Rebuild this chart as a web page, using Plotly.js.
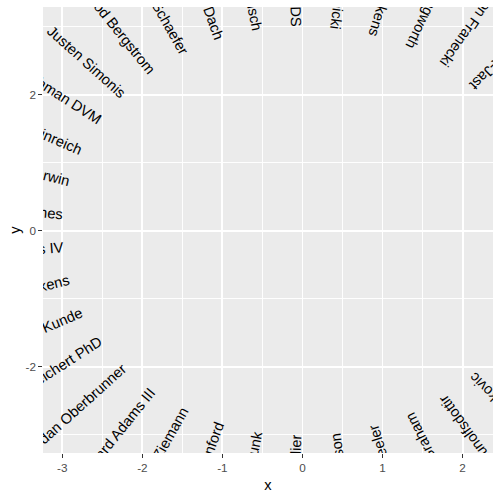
<!DOCTYPE html>
<html>
<head>
<meta charset="utf-8">
<script src="https://cdn.plot.ly/plotly-3.0.1.min.js"></script>
<style>
  html, body { margin: 0; padding: 0; background: #ffffff; }
  #chart { width: 500px; height: 500px; }
</style>
</head>
<body>
<div id="chart"></div>
<svg width="0" height="0" style="position:absolute;left:0;top:0">
  <defs><clipPath id="panelClip" clipPathUnits="userSpaceOnUse"><rect id="panelClipRect" x="0" y="0" width="500" height="500"></rect></clipPath></defs>
</svg>
<script>
// ---- data ----
const labels = [
  "Cummerata-Jast", "Brandon Franecki", "Cleo Langworth", "Grady Dickens", "Leonie Wolnicki",
  "Vance Kling DDS", "Adele Rausch", "Elroy Dach", "Dr. Ryan Schaefer", "Jarrod Bergstrom",
  "Justen Simonis", "Sheldon Lehman DVM", "Margarete Weinreich", "Marlene Sherwin", "Desmond Jones",
  "Lorenzo Hayes IV", "Ardith Wilkens", "Dr. Mayme Kunde", "Tristan Reichert PhD", "Jordan Oberbrunner",
  "Dr. Edward Adams III", "Orlando Ziemann", "Rosalind Stanford", "Ms. Dolly Funk", "Viola Collier",
  "Arne Larson", "Boyd Wheeler", "Eldon Graham", "Elvera Runolfsdottir", "Luka Marinkovic"
];
const xValues = [
   2.121,  1.750,  1.333,  0.881,  0.405,
  -0.081, -0.565, -1.034, -1.477, -1.880,
  -2.233, -2.528, -2.756, -2.911, -2.990,
  -2.990, -2.911, -2.756, -2.528, -2.233,
  -1.880, -1.477, -1.034, -0.565, -0.081,
   0.405,  0.881,  1.333,  1.750,  2.121
];
const yValues = [
   2.121,  2.437,  2.688,  2.868,  2.973,
   2.999,  2.946,  2.816,  2.612,  2.338,
   2.003,  1.616,  1.185,  0.724,  0.243,
  -0.243, -0.724, -1.185, -1.616, -2.003,
  -2.338, -2.612, -2.816, -2.946, -2.999,
  -2.973, -2.868, -2.688, -2.437, -2.121
];
const xTickVals = [-3, -2, -1, 0, 1, 2];
const xTickText = ["-3", "-2", "-1", "0", "1", "2"];
const yTickVals = [-2, 0, 2];
const yTickText = ["-2", "0", "2"];

// ---- styling ----
const FONT = "Liberation Sans, Arial, sans-serif";
const LABEL_SIZE = 14.67;

const canvas = document.createElement("canvas");
const ctx = canvas.getContext("2d");
ctx.font = LABEL_SIZE + "px 'Liberation Sans'";

const annotations = labels.map((name, i) => {
  const x = xValues[i], y = yValues[i];
  const thetaDeg = Math.atan2(y, x) * 180 / Math.PI;   // radial direction
  const angle = thetaDeg + 180;                         // text reads inward (ggplot angle)
  const t = thetaDeg * Math.PI / 180;
  const w = ctx.measureText(name).width;
  // hjust = 1 : text ends at the point, extends outward
  return {
    x: x, y: y, xref: "x", yref: "y",
    text: name, showarrow: false,
    textangle: -angle,
    xanchor: "center", yanchor: "middle",
    xshift: (w / 2) * Math.cos(t),
    yshift: (w / 2) * Math.sin(t),
    font: { family: FONT, size: LABEL_SIZE, color: "#000000" }
  };
});

const trace = {
  x: xValues, y: yValues, type: "scatter", mode: "markers",
  marker: { opacity: 0, size: 1 }, hoverinfo: "skip", showlegend: false
};

const axisCommon = {
  ticks: "outside", ticklen: 3.67, tickwidth: 1.07, tickcolor: "#333333",
  tickfont: { family: FONT, size: 11.73, color: "#4D4D4D" },
  showline: false, zeroline: false,
  showgrid: true, gridcolor: "#FFFFFF", gridwidth: 1.9
};

const layout = {
  width: 500, height: 500,
  margin: { l: 43, r: 7.3, t: 7.3, b: 46.5, pad: 0 },
  paper_bgcolor: "#FFFFFF", plot_bgcolor: "#EBEBEB",
  showlegend: false,
  font: { family: FONT },
  xaxis: Object.assign({}, axisCommon, {
    range: [-3.241, 2.380], tickmode: "array", tickvals: xTickVals, ticktext: xTickText,
    minor: { dtick: 0.5, tick0: 0, showgrid: true, gridcolor: "#FFFFFF", gridwidth: 0.95, ticks: "" },
    title: { text: "x", font: { family: FONT, size: 14.67, color: "#000000" }, standoff: 6 }
  }),
  yaxis: Object.assign({}, axisCommon, {
    range: [-3.268, 3.294], tickmode: "array", tickvals: yTickVals, ticktext: yTickText,
    minor: { dtick: 1, tick0: 0, showgrid: true, gridcolor: "#FFFFFF", gridwidth: 0.95, ticks: "" },
    title: { text: "y", font: { family: FONT, size: 14.67, color: "#000000" }, standoff: 1 }
  }),
  annotations: annotations
};

const gd = document.getElementById("chart");
Plotly.newPlot(gd, [trace], layout, { displayModeBar: false, staticPlot: true }).then(() => {
  const s = gd._fullLayout._size;
  const r = document.getElementById("panelClipRect");
  r.setAttribute("x", s.l); r.setAttribute("y", s.t);
  r.setAttribute("width", s.w); r.setAttribute("height", s.h);
  gd.querySelectorAll("g.annotation").forEach(g => g.setAttribute("clip-path", "url(#panelClip)"));
});
</script>
</body>
</html>
